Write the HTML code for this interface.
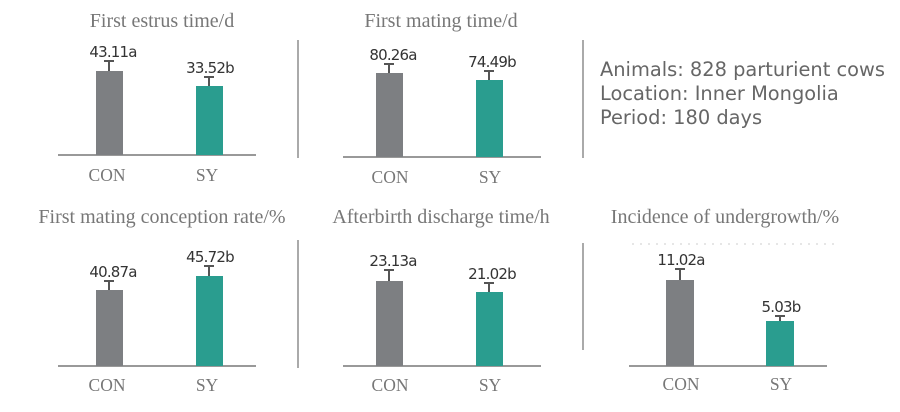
<!DOCTYPE html>
<html><head><style>
body{margin:0;background:#fff}
svg text{font-family:"Liberation Serif",serif;fill:#777}
.n{font-family:"DejaVu Sans",sans-serif;fill:#333;font-size:15px;text-anchor:middle;letter-spacing:-0.8px}
.t{font-size:20px;text-anchor:middle}
.c{font-size:17.5px;text-anchor:middle}
</style></head><body>
<svg width="900" height="407" xmlns="http://www.w3.org/2000/svg">
<g stroke="#999" stroke-width="2">
<line x1="58" y1="155" x2="256" y2="155"/>
<line x1="343" y1="157" x2="541" y2="157"/>
<line x1="58" y1="366" x2="256" y2="366"/>
<line x1="343" y1="366" x2="541" y2="366"/>
<line x1="629" y1="366" x2="827" y2="366"/>
</g>
<g stroke="#aaa" stroke-width="2">
<line x1="298" y1="40" x2="298" y2="158"/>
<line x1="583" y1="40" x2="583" y2="158"/>
<line x1="298" y1="240" x2="298" y2="368"/>
<line x1="583" y1="243" x2="583" y2="350"/>
</g>
<line x1="632" y1="244" x2="840" y2="244" stroke="#ccc" stroke-dasharray="2 6"/>
<g stroke="#555" stroke-width="2">
<line x1="109" y1="71" x2="109" y2="61"/><line x1="104" y1="61" x2="114" y2="61"/>
<line x1="209" y1="86" x2="209" y2="77"/><line x1="204" y1="77" x2="214" y2="77"/>
<line x1="389" y1="73" x2="389" y2="64"/><line x1="384" y1="64" x2="394" y2="64"/>
<line x1="489" y1="80" x2="489" y2="71"/><line x1="484" y1="71" x2="494" y2="71"/>
<line x1="109" y1="290" x2="109" y2="281"/><line x1="104" y1="281" x2="114" y2="281"/>
<line x1="209" y1="276" x2="209" y2="266"/><line x1="204" y1="266" x2="214" y2="266"/>
<line x1="389" y1="281" x2="389" y2="270"/><line x1="384" y1="270" x2="394" y2="270"/>
<line x1="489" y1="292" x2="489" y2="283"/><line x1="484" y1="283" x2="494" y2="283"/>
<line x1="680" y1="280" x2="680" y2="269"/><line x1="675" y1="269" x2="685" y2="269"/>
<line x1="780" y1="321" x2="780" y2="316"/><line x1="775" y1="316" x2="785" y2="316"/>
</g>
<g fill="#7d7f82">
<rect x="96" y="71" width="27" height="84"/>
<rect x="376" y="73" width="27" height="84"/>
<rect x="96" y="290" width="27" height="76"/>
<rect x="376" y="281" width="27" height="85"/>
<rect x="666" y="280" width="28" height="86"/>
</g>
<g fill="#2a9d8f">
<rect x="196" y="86" width="27" height="69"/>
<rect x="476" y="80" width="27" height="77"/>
<rect x="196" y="276" width="27" height="90"/>
<rect x="476" y="292" width="27" height="74"/>
<rect x="766" y="321" width="28" height="45"/>
</g>
<text class="n" x="113" y="57">43.11a</text>
<text class="n" x="210" y="73">33.52b</text>
<text class="n" x="393" y="60">80.26a</text>
<text class="n" x="492" y="67">74.49b</text>
<text class="n" x="113" y="277">40.87a</text>
<text class="n" x="210" y="262">45.72b</text>
<text class="n" x="393" y="266">23.13a</text>
<text class="n" x="492" y="279">21.02b</text>
<text class="n" x="681" y="265">11.02a</text>
<text class="n" x="781" y="312">5.03b</text>
<text class="t" x="162" y="27">First estrus time/d</text>
<text class="t" x="441" y="27">First mating time/d</text>
<text class="t" x="162" y="223">First mating conception rate/%</text>
<text class="t" x="441" y="223">Afterbirth discharge time/h</text>
<text class="t" x="725" y="223">Incidence of undergrowth/%</text>
<text class="c" x="107" y="181">CON</text><text class="c" x="207" y="181">SY</text>
<text class="c" x="390" y="183">CON</text><text class="c" x="490" y="183">SY</text>
<text class="c" x="107" y="391">CON</text><text class="c" x="207" y="391">SY</text>
<text class="c" x="390" y="391">CON</text><text class="c" x="490" y="391">SY</text>
<text class="c" x="681" y="390">CON</text><text class="c" x="781" y="390">SY</text>
<g>
<text x="600" y="76" style="font-family:'DejaVu Sans',sans-serif;fill:#666;font-size:19.4px">Animals: 828 parturient cows</text>
<text x="600" y="100" style="font-family:'DejaVu Sans',sans-serif;fill:#666;font-size:19.4px">Location: Inner Mongolia</text>
<text x="600" y="124" style="font-family:'DejaVu Sans',sans-serif;fill:#666;font-size:19.4px">Period: 180 days</text>
</g>
</svg>
</body></html>
